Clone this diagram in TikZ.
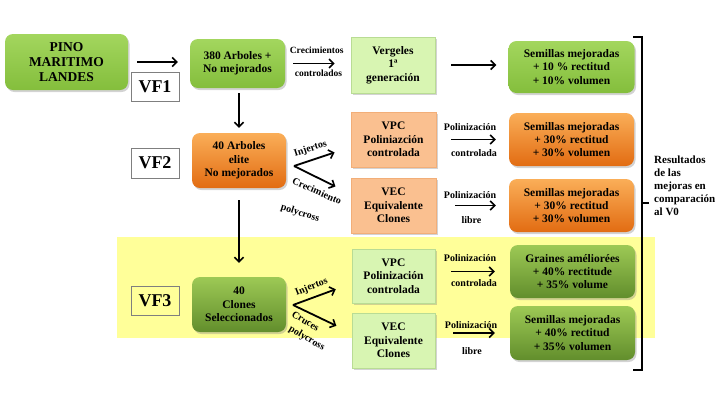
\documentclass[tikz,border=0pt]{standalone}
\usepackage{fontspec}
\setmainfont{Liberation Serif}
\usetikzlibrary{arrows.meta,shadows}

\definecolor{bandyellow}{HTML}{FFFF99}
\definecolor{grTop}{HTML}{A3D65E}
\definecolor{grBot}{HTML}{84BE3C}
\definecolor{orTop}{HTML}{FAAE58}
\definecolor{orBot}{HTML}{E26C12}
\definecolor{olTop}{HTML}{9DC955}
\definecolor{olBot}{HTML}{628E2C}
\definecolor{peach}{HTML}{FAC090}
\definecolor{peachLine}{HTML}{F2AE78}
\definecolor{ltgreen}{HTML}{D8F5B2}
\definecolor{ltgreenLine}{HTML}{B9DC94}
\definecolor{vfline}{HTML}{7F7F7F}

\begin{document}
\begin{tikzpicture}[x=1pt,y=-1pt,
  every node/.style={font=\bfseries},
  base/.style={align=center, inner sep=1pt,
    font=\fontsize{11.5}{13.3}\selectfont\bfseries,
    drop shadow={opacity=0.35,shadow xshift=1.5pt,shadow yshift=-2pt}},
  brightbox/.style={base, rounded corners=8pt, top color=grTop, bottom color=grBot},
  orangebox/.style={base, rounded corners=8pt, top color=orTop, bottom color=orBot},
  olivebox/.style={base, rounded corners=8pt, top color=olTop, bottom color=olBot},
  peachbox/.style={base, fill=peach, draw=peachLine, line width=0.6pt},
  lightbox/.style={base, fill=ltgreen, draw=ltgreenLine, line width=0.6pt},
  vfbox/.style={draw=vfline, line width=0.8pt, inner sep=0pt,
    minimum width=48pt, font=\fontsize{18}{18}\selectfont\bfseries},
  lbl/.style={inner sep=0pt, font=\fontsize{10}{11}\selectfont\bfseries},
  slbl/.style={inner sep=0pt, font=\fontsize{9.5}{10}\selectfont\bfseries},
  arr/.style={line width=1.8pt, -{Straight Barb[length=4.5pt,width=9pt,line width=1.6pt]}},
  bracket/.style={line width=1.8pt}
]
\useasboundingbox (0,0) rectangle (720,400);

% yellow band for VF3
\fill[bandyellow] (117,237) rectangle (655,338);

% --- row VF1
\node[brightbox, minimum width=123pt, minimum height=56pt, font=\fontsize{13.5}{14.7}\selectfont\bfseries] (pino) at (66.5,62) {PINO\\MARITIMO\\LANDES};
\node[brightbox, minimum width=95pt, minimum height=49pt] (n380) at (237.5,63.5) {380 Arboles +\\No mejorados};
\node[vfbox, fill=white, minimum height=29pt] (vf1) at (155,86.5) {VF1};
\node[lightbox, minimum width=84pt, minimum height=56pt] (verg) at (393,65) {Vergeles\\1ª\\generación};
\node[brightbox, minimum width=126pt, minimum height=52pt] (sem1) at (571.5,67) {Semillas mejoradas\\+ 10 \% rectitud\\+ 10\% volumen};

% --- row VF2
\node[orangebox, minimum width=94pt, minimum height=55pt] (n40a) at (239,160.5) {40 Arboles\\elite\\No mejorados};
\node[vfbox, fill=white, minimum height=30pt] (vf2) at (155,163) {VF2};
\node[peachbox, minimum width=85pt, minimum height=55pt] (vpc2) at (393.5,139.5) {VPC\\Poliniazción\\controlada};
\node[peachbox, minimum width=85pt, minimum height=55pt] (vec2) at (393.5,205.5) {VEC\\Equivalente\\Clones};
\node[orangebox, minimum width=125pt, minimum height=53pt] (sem2) at (571.5,139.5) {Semillas mejoradas\\+ 30\% rectitud\\+ 30\% volumen};
\node[orangebox, minimum width=125pt, minimum height=53pt] (sem3) at (571.5,205.5) {Semillas mejoradas\\+ 30\% rectitud\\+ 30\% volumen};

% --- row VF3
\node[vfbox, minimum height=29pt] (vf3) at (155,300.5) {VF3};
\node[olivebox, minimum width=94pt, minimum height=55pt] (n40c) at (239,304.5) {40\\Clones\\Seleccionados};
\node[lightbox, minimum width=83pt, minimum height=54pt] (vpc3) at (393.5,276) {VPC\\Polinización\\controlada};
\node[lightbox, minimum width=83pt, minimum height=55pt] (vec3) at (393.5,340.5) {VEC\\Equivalente\\Clones};
\node[olivebox, minimum width=125pt, minimum height=53pt] (sem4) at (572.5,271.5) {Graines améliorées\\+ 40\% rectitude\\+ 35\% volume};
\node[olivebox, minimum width=125pt, minimum height=54pt] (sem5) at (572.5,333) {Semillas mejoradas\\+ 40\% rectitud\\+ 35\% volumen};

% --- connectors
\draw[arr, shorten <=9pt, shorten >=12pt] (pino.east) -- (pino.east -| n380.west);
\draw[arr, shorten <=8pt, shorten >=16pt] (n380.east) -- (n380.east -| verg.west);
\draw[arr, shorten <=16pt, shorten >=12pt] (verg.east) -- (verg.east -| sem1.west);
\draw[arr, shorten <=5pt, shorten >=5pt] (n380.south -| n40a.north) -- (n40a.north);
\draw[arr, shorten <=12pt, shorten >=14pt] (n40a.south) -- (n40c.north);

\coordinate (j2) at (294,166);
\draw[arr, shorten >=17pt] (j2) -- (vpc2.190);
\draw[arr, shorten >=17pt] (j2) -- (vec2.165);
\draw[arr, shorten <=15pt, shorten >=13pt] (vpc2.east) -- (vpc2.east -| sem2.west);
\draw[arr, shorten <=19pt, shorten >=13pt] (vec2.east) -- (vec2.east -| sem3.west);

\coordinate (j3) at (293,305);
\draw[arr, shorten >=17pt] (j3) -- (vpc3.190);
\draw[arr, shorten >=17pt] (j3) -- (vec3.170);
\draw[arr, shorten <=16pt, shorten >=15pt] (sem4.west -| vpc3.east) -- (sem4.west);
\draw[arr, shorten <=18pt, shorten >=15pt] (sem5.west -| vec3.east) -- (sem5.west);

% --- connector labels
\node[slbl] (l1a) at (316.7,50) {Crecimientos};
\node[slbl] (l1b) at (318.5,73) {controlados};

\node[lbl, rotate=18] (l2a) at (310.5,149) {Injertos};
\node[lbl, rotate=-24] (l2b) at (317,191) {Crecimiento};
\node[lbl, rotate=-18] (l2c) at (300,213.5) {polycross};
\node[lbl] (l2d) at (470,127) {Polinización};
\node[lbl] (l2e) at (474,153) {controlada};
\node[lbl] (l2f) at (470,195) {Polinización};
\node[lbl] (l2g) at (471.5,220) {libre};

\node[lbl, rotate=22] (l3a) at (311.5,287) {Injertos};
\node[lbl, rotate=-31, align=left, font=\fontsize{10}{13.5}\selectfont\bfseries] (l3b) at (308,331.5) {Cruces\\\hspace*{5pt}polycross};
\node[lbl] (l3d) at (470,258) {Polinización};
\node[lbl] (l3e) at (474,283) {controlada};
\node[lbl] (l3f) at (471,325) {Polinización};
\node[lbl] (l3g) at (472,351) {libre};

% --- bracket and result text
\draw[bracket] (633,37) -- (642,37) -- (642,370) -- (633,370);
\draw[bracket] (642,203) -- (649,203);
\node[inner sep=0pt, anchor=west, align=left, font=\fontsize{11}{12.9}\selectfont\bfseries] (res) at (654,186) {Resultados\\de las\\mejoras en\\comparación\\al V0};
\end{tikzpicture}
\end{document}
